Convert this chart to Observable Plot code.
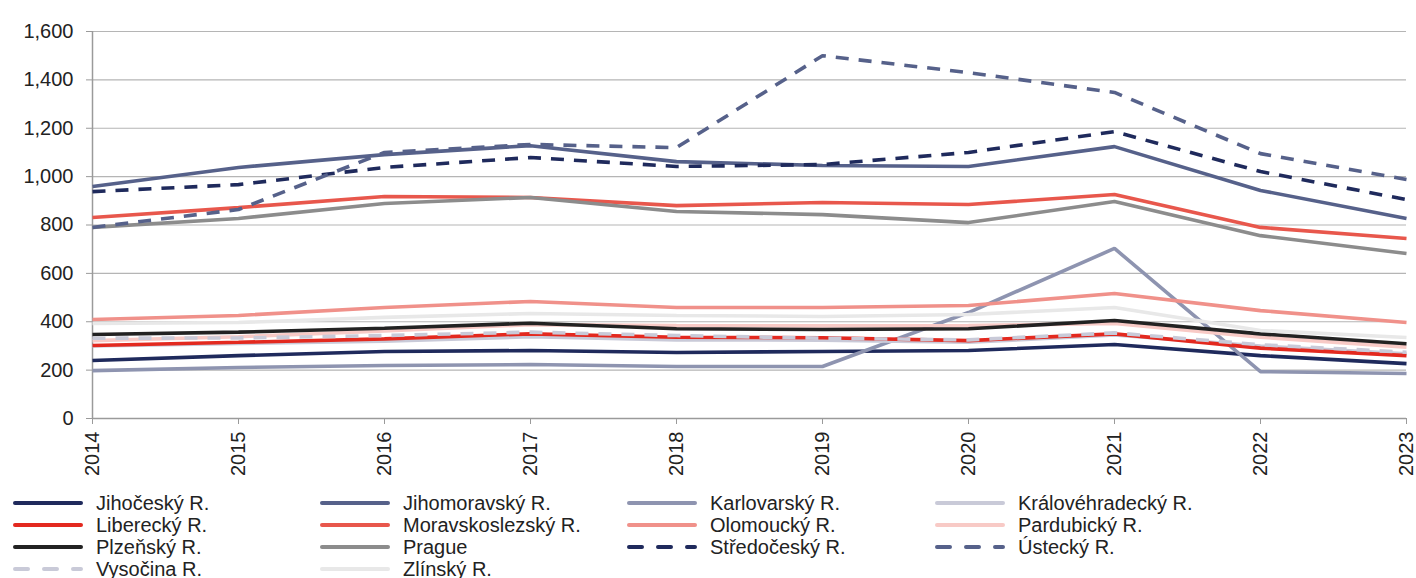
<!DOCTYPE html>
<html>
<head>
<meta charset="utf-8">
<script src="https://cdn.jsdelivr.net/npm/d3@7"></script>
<script src="https://cdn.jsdelivr.net/npm/@observablehq/plot@0.6"></script>
<style>
  html, body { margin: 0; padding: 0; background: #fff; }
  body { width: 1416px; height: 578px; overflow: hidden; font-family: "Liberation Sans", Arial, sans-serif; }
  #chart svg { display: block; }
  #legend { position: relative; height: 90px; }
  .item { position: absolute; display: flex; align-items: center; font-size: 20px; line-height: 22px; color: #222; white-space: nowrap; }
  .item svg { margin-right: 13px; }
</style>
</head>
<body>
<div id="chart"></div>
<div id="legend"></div>
<script>
const years = [2014, 2015, 2016, 2017, 2018, 2019, 2020, 2021, 2022, 2023];
const regions = ["Jihočeský R.", "Jihomoravský R.", "Karlovarský R.", "Královéhradecký R.",
  "Liberecký R.", "Moravskoslezský R.", "Olomoucký R.", "Pardubický R.",
  "Plzeňský R.", "Prague", "Středočeský R.", "Ústecký R.", "Vysočina R.", "Zlínský R."];
const jihocesky      = [240, 260, 277, 281, 273, 277, 281, 306, 260, 227];
const jihomoravsky   = [959, 1038, 1091, 1128, 1062, 1046, 1042, 1124, 943, 827];
const karlovarsky    = [198, 211, 219, 223, 215, 215, 438, 703, 194, 186];
const kralovehradecky= [300, 310, 320, 338, 325, 324, 315, 345, 300, 268];
const liberecky      = [302, 315, 329, 350, 336, 334, 322, 350, 291, 260];
const moravskoslezsky= [831, 872, 918, 914, 880, 893, 885, 926, 790, 744];
const olomoucky      = [409, 426, 459, 484, 459, 459, 467, 517, 446, 397];
const pardubicky     = [322, 338, 362, 388, 384, 383, 384, 393, 336, 295];
const plzensky       = [347, 357, 373, 394, 371, 368, 371, 405, 350, 309];
const prague         = [790, 827, 889, 914, 856, 843, 810, 897, 756, 682];
const stredocesky    = [938, 967, 1038, 1079, 1042, 1050, 1100, 1186, 1021, 905];
const ustecky        = [790, 864, 1100, 1133, 1120, 1500, 1430, 1348, 1095, 988];
const vysocina       = [332, 333, 343, 357, 343, 332, 325, 354, 305, 274];
const zlinsky        = [393, 397, 418, 434, 426, 422, 430, 459, 364, 335];
const yTicks = [0, 200, 400, 600, 800, 1000, 1200, 1400, 1600];

const seriesValues = [jihocesky, jihomoravsky, karlovarsky, kralovehradecky, liberecky,
  moravskoslezsky, olomoucky, pardubicky, plzensky, prague, stredocesky, ustecky, vysocina, zlinsky];
const colors = ["#1f2a5c", "#56618a", "#8e94b0", "#c9cad8", "#e3291f", "#e8574c", "#f0918a",
  "#f8cac6", "#222222", "#8c8c8c", "#1f2a5c", "#56618a", "#c9cad8", "#e8e8e8"];
const dashed = [false, false, false, false, false, false, false, false, false, false, true, true, true, false];

const lineMarks = regions.map((name, i) => {
  const rows = years.map((y, j) => ({year: y, value: seriesValues[i][j], region: name}));
  return Plot.lineY(rows, {
    x: "year", y: "value", stroke: colors[i], strokeWidth: 3.6,
    strokeDasharray: dashed[i] ? "13,10" : null, strokeLinecap: "butt", strokeLinejoin: "miter"
  });
});

const chart = Plot.plot({
  width: 1416,
  height: 488,
  marginLeft: 92,
  marginRight: 10,
  marginTop: 31,
  marginBottom: 70,
  style: {fontFamily: "'Liberation Sans', Arial, sans-serif", fontSize: "20px", color: "#222", background: "#fff"},
  x: {domain: [2014, 2023]},
  y: {domain: [0, 1600]},
  marks: [
    Plot.ruleY(yTicks.slice(1), {stroke: "#b5b5b5", strokeWidth: 1.2}),
    Plot.ruleX([2014], {stroke: "#9a9a9a", strokeWidth: 1.5}),
    Plot.ruleY([0], {stroke: "#9a9a9a", strokeWidth: 1.5}),
    Plot.axisY({ticks: yTicks, tickFormat: d3.format(","), tickSize: 6, tickPadding: 13, label: null, stroke: "#9a9a9a", fill: "#222", fontSize: 20}),
    Plot.axisX({ticks: years, tickFormat: d => String(d), tickSize: 6, tickPadding: 7, tickRotate: -90, label: null, stroke: "#9a9a9a", fill: "#222", fontSize: 20}),
    ...lineMarks
  ]
});
document.getElementById("chart").appendChild(chart);

// Legend
const legend = document.getElementById("legend");
const colX = [13, 320, 627, 935];
const rowY = [14.5, 36.5, 58.5, 80.5];
regions.forEach((name, i) => {
  const col = i % 4, row = Math.floor(i / 4);
  const div = document.createElement("div");
  div.className = "item";
  div.style.left = colX[col] + "px";
  div.style.top = (rowY[row] - 11) + "px";
  const svgNS = "http://www.w3.org/2000/svg";
  const s = document.createElementNS(svgNS, "svg");
  s.setAttribute("width", 70); s.setAttribute("height", 22);
  const l = document.createElementNS(svgNS, "line");
  l.setAttribute("x1", 2); l.setAttribute("x2", 68); l.setAttribute("y1", 11); l.setAttribute("y2", 11);
  l.setAttribute("stroke", colors[i]); l.setAttribute("stroke-width", 4);
  l.setAttribute("stroke-linecap", "round");
  if (dashed[i]) l.setAttribute("stroke-dasharray", "13,16");
  s.appendChild(l);
  div.appendChild(s);
  const t = document.createElement("span");
  t.textContent = name;
  div.appendChild(t);
  legend.appendChild(div);
});
</script>
</body>
</html>
